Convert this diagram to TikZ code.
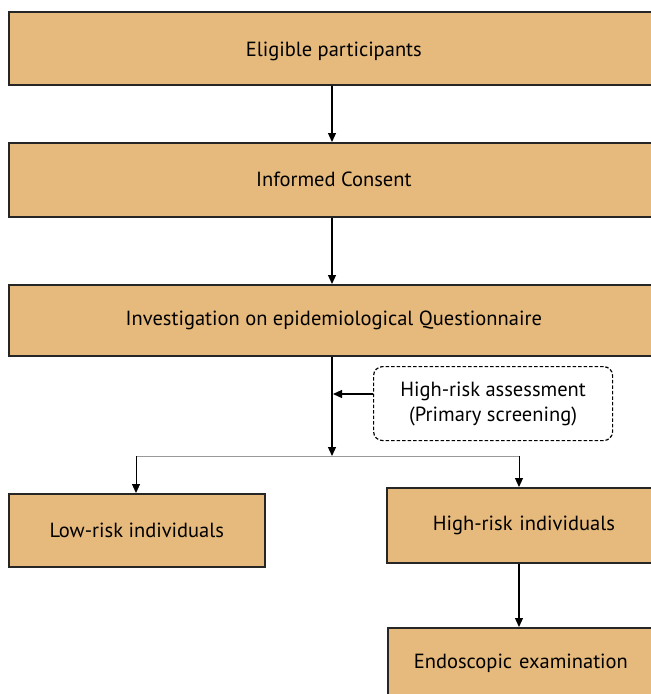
\documentclass[tikz,border=0pt]{standalone}
\usepackage{fontspec}
\setmainfont{PT Sans}
\usetikzlibrary{arrows.meta}
\definecolor{boxfill}{RGB}{230,185,124}
\begin{document}
\begin{tikzpicture}[x=1pt,y=-1pt,
  stepbox/.style={draw=black!85,line width=1.6pt,fill=boxfill,inner sep=0pt,font=\fontsize{20.5}{24}\selectfont},
  arr/.style={-{Triangle[length=9pt,width=8pt]},line width=1.2pt},
  garr/.style={-{Triangle[length=9pt,width=8pt]},line width=1pt}]
\useasboundingbox (0,0) rectangle (651,694);
\begin{scope}
\clip (0,0) rectangle (651,694);
\node[stepbox,minimum width=650pt,minimum height=73pt,anchor=north west,text depth=0pt] (a) at (8,11) {\raisebox{-2pt}{Eligible participants}};
\node[stepbox,minimum width=650pt,minimum height=74pt,anchor=north west] (b) at (8,142) {Informed Consent};
\node[stepbox,minimum width=650pt,minimum height=71pt,anchor=north west] (c) at (8,284) {Investigation on epidemiological Questionnaire};
\node[stepbox,minimum width=256pt,minimum height=73pt,anchor=north west] (lo) at (8,493) {Low-risk individuals};
\node[stepbox,minimum width=268pt,minimum height=75pt,anchor=north west,text width=266pt,align=left] (hi) at (386,487) {\hspace*{45pt}High-risk individuals};
\node[stepbox,minimum width=268pt,minimum height=75pt,anchor=north west,text width=266pt,align=left] (en) at (387,627) {\raisebox{9pt}{\hspace*{25pt}Endoscopic examination}};
\end{scope}
\node[draw,dash pattern=on 3.5pt off 2pt,rounded corners=9pt,line width=1.2pt,minimum width=239pt,minimum height=74pt,anchor=north west,align=center,font=\fontsize{20.5}{25}\selectfont] (d) at (373,366) {High-risk assessment\\(Primary screening)};
\coordinate (j) at (332,456);
\coordinate (l) at (136,456);
\coordinate (r) at (519,456);
\draw[arr] (a.south -| 332,0) -- (b.north -| 332,0);
\draw[arr] (b.south -| 332,0) -- (c.north -| 332,0);
\draw[arr] (c.south -| 332,0) -- (j);
\draw[line width=1pt,draw=black!40] (l) -- (r);
\draw[garr] (l) -- (lo.north -| l);
\draw[garr] (r) -- (hi.north -| r);
\draw[arr] (d.west |- 0,394) -- (333,394);
\draw[arr] (hi.south -| r) -- (en.north -| r);
\end{tikzpicture}
\end{document}
